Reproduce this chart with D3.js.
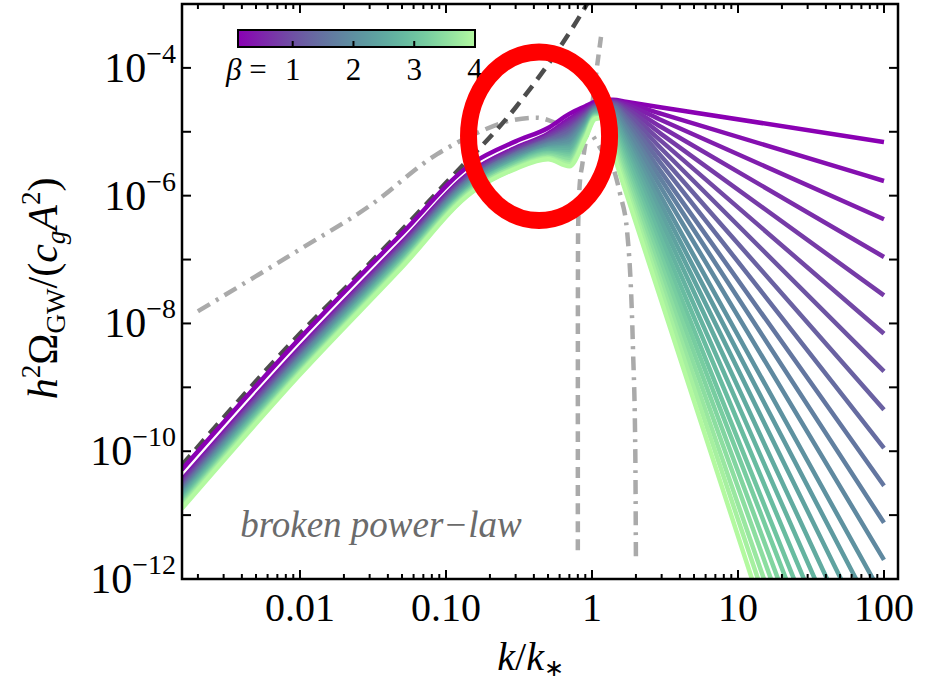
<!DOCTYPE html>
<html>
<head>
<meta charset="utf-8">
<script src="https://cdn.jsdelivr.net/npm/d3@7"></script>
<style>
    body { margin: 0; background: #fff; }
    svg text { font-family: "Liberation Serif", "Times New Roman", serif; }
</style>
</head>
<body>
<div id="gw-spectrum"></div>
<script>
// GW spectra induced by a broken power-law curvature spectrum, one curve per beta.
// Values are log10(h^2 Omega_GW / (c_g A^2)) at kNodes.

const kNodes = [0.00155, 0.01, 0.05, 0.15, 0.3, 0.5, 0.7, 0.9, 1.05, 1.2, 1.4, 1.7, 3, 100];

const betaValues = [0.1, 0.2625, 0.425, 0.5875, 0.75, 0.9125, 1.075, 1.2375, 1.4, 1.5625, 1.725, 1.8875,
    2.05, 2.2125, 2.375, 2.5375, 2.7, 2.8625, 3.025, 3.1875, 3.35, 3.5125, 3.675, 3.8375, 4.0];

const logOmegaCurves = [
    [-10.29, -8.23, -6.59, -5.50, -5.15, -4.94, -4.72, -4.60, -4.53, -4.50, -4.50, -4.53, -4.62, -5.16],
    [-10.45, -8.38, -6.73, -5.62, -5.25, -5.03, -4.80, -4.65, -4.56, -4.52, -4.51, -4.55, -4.72, -5.77],
    [-10.47, -8.40, -6.75, -5.63, -5.26, -5.05, -4.83, -4.67, -4.57, -4.53, -4.52, -4.57, -4.82, -6.37],
    [-10.49, -8.42, -6.76, -5.65, -5.28, -5.06, -4.86, -4.69, -4.58, -4.54, -4.53, -4.60, -4.93, -6.96],
    [-10.51, -8.43, -6.78, -5.66, -5.29, -5.08, -4.90, -4.71, -4.59, -4.56, -4.54, -4.63, -5.04, -7.56],
    [-10.53, -8.45, -6.80, -5.68, -5.31, -5.10, -4.93, -4.73, -4.60, -4.57, -4.55, -4.67, -5.15, -8.16],
    [-10.55, -8.47, -6.81, -5.69, -5.32, -5.12, -4.96, -4.75, -4.61, -4.58, -4.56, -4.70, -5.27, -8.75],
    [-10.57, -8.49, -6.83, -5.71, -5.34, -5.13, -4.99, -4.77, -4.62, -4.59, -4.58, -4.75, -5.39, -9.35],
    [-10.59, -8.51, -6.85, -5.72, -5.35, -5.15, -5.03, -4.79, -4.63, -4.61, -4.60, -4.79, -5.51, -9.95],
    [-10.61, -8.53, -6.87, -5.73, -5.36, -5.17, -5.06, -4.81, -4.64, -4.62, -4.62, -4.84, -5.64, -10.54],
    [-10.63, -8.54, -6.88, -5.75, -5.38, -5.19, -5.09, -4.83, -4.65, -4.63, -4.65, -4.90, -5.76, -11.12],
    [-10.65, -8.56, -6.90, -5.76, -5.39, -5.20, -5.12, -4.85, -4.66, -4.64, -4.68, -4.95, -5.89, -11.70],
    [-10.67, -8.58, -6.92, -5.78, -5.41, -5.22, -5.15, -4.87, -4.67, -4.65, -4.71, -5.02, -6.03, -12.31],
    [-10.68, -8.60, -6.93, -5.79, -5.42, -5.24, -5.19, -4.89, -4.68, -4.67, -4.74, -5.08, -6.16, -12.84],
    [-10.70, -8.62, -6.95, -5.81, -5.44, -5.26, -5.22, -4.91, -4.70, -4.68, -4.78, -5.14, -6.29, -13.37],
    [-10.72, -8.64, -6.97, -5.82, -5.45, -5.27, -5.25, -4.93, -4.71, -4.69, -4.82, -5.21, -6.42, -13.92],
    [-10.74, -8.65, -6.98, -5.84, -5.47, -5.29, -5.28, -4.95, -4.72, -4.70, -4.87, -5.28, -6.56, -14.45],
    [-10.76, -8.67, -7.00, -5.85, -5.48, -5.31, -5.32, -4.97, -4.73, -4.72, -4.91, -5.35, -6.70, -14.98],
    [-10.78, -8.69, -7.02, -5.86, -5.49, -5.33, -5.35, -4.99, -4.74, -4.73, -4.96, -5.43, -6.84, -15.51],
    [-10.80, -8.71, -7.04, -5.88, -5.51, -5.34, -5.38, -5.01, -4.75, -4.74, -5.01, -5.51, -6.97, -15.96],
    [-10.82, -8.73, -7.05, -5.89, -5.52, -5.36, -5.41, -5.03, -4.76, -4.75, -5.07, -5.59, -7.10, -16.46],
    [-10.84, -8.75, -7.07, -5.91, -5.54, -5.38, -5.44, -5.05, -4.77, -4.76, -5.13, -5.67, -7.24, -16.92],
    [-10.86, -8.76, -7.09, -5.92, -5.55, -5.40, -5.48, -5.07, -4.78, -4.77, -5.20, -5.76, -7.38, -17.42],
    [-10.88, -8.78, -7.10, -5.94, -5.57, -5.41, -5.51, -5.09, -4.79, -4.78, -5.26, -5.84, -7.51, -17.87],
    [-10.90, -8.80, -7.12, -5.95, -5.58, -5.43, -5.54, -5.11, -4.80, -4.78, -5.33, -5.93, -7.66, -18.34]
];

// reference curves (grey)
const kDarkDashed = [0.00155, 0.01, 0.03, 0.1, 0.3, 0.8, 1.2];
const logDarkDashed = [-10.22, -8.16, -7.06, -5.80, -4.62, -3.24, -2.55];

const kDashDot = [0.002, 0.005, 0.01, 0.03, 0.087, 0.17, 0.27, 0.42, 0.6, 0.8, 0.95, 1.15, 1.44, 1.56, 1.74, 1.91, 1.98, 2.0];
const logDashDot = [-7.81, -7.26, -6.84, -6.16, -5.35, -5.00, -4.83, -4.78, -4.88, -4.96, -5.00, -5.27, -5.66, -5.98, -6.56, -8.41, -10.0, -11.75];

const kGreyDashed = [0.800, 0.8005, 0.803, 0.82, 0.86, 0.93, 1.0, 1.08, 1.155];
const logGreyDashed = [-11.55, -8.0, -6.6, -5.9, -5.5, -5.0, -4.6, -4.0, -3.50];

const xMajorTicks = [0.01, 0.1, 1, 10, 100];
const xTickLabels = ["0.01", "0.10", "1", "10", "100"];
const yLabelExponents = [-4, -6, -8, -10, -12];
const colorbarTicks = [1, 2, 3, 4];
const colorStops = ["#8a00b3", "#6b5ba0", "#5a93a0", "#63c3a0", "#b3f9a0"];

// red highlight ring around the resonance feature (centre in data units, radii in decades)
const ringCentre = { k: 0.434, logOmega: -5.07 };
const ringRadiusDecades = { k: 0.483, omega: 1.32 };


class SpectrumChart {
    constructor(parentElement) {
        this.parentElement = parentElement;
        this.initVis();
    }

    initVis() {
        let vis = this;

        vis.margin = { top: 4, right: 30, bottom: 107, left: 182 };
        vis.width = 928 - vis.margin.left - vis.margin.right;
        vis.height = 686 - vis.margin.top - vis.margin.bottom;

        vis.root = d3.select(`#${vis.parentElement}`)
            .append("svg")
            .attr("width", 928)
            .attr("height", 686);

        vis.svg = vis.root.append("g")
            .attr("transform", `translate(${vis.margin.left}, ${vis.margin.top})`);

        vis.x = d3.scaleLog().domain([10 ** -2.808, 10 ** 2.096]).range([0, vis.width]);
        vis.y = d3.scaleLog().domain([1e-12, 1e-3]).range([vis.height, 0]);

        vis.color = d3.scaleSequential(d3.interpolateRgbBasis(colorStops)).domain([0.1, 4]);

        vis.svg.append("clipPath").attr("id", "plot-clip")
            .append("rect").attr("width", vis.width).attr("height", vis.height);

        vis.line = d3.line()
            .x(d => vis.x(d.k))
            .y(d => vis.y(d.omega))
            .curve(d3.curveMonotoneX);

        vis.wrangleData();
    }

    wrangleData() {
        let vis = this;

        const toPoints = (ks, logs) => ks.map((k, i) => ({ k: k, omega: 10 ** logs[i] }));

        vis.curves = betaValues.map((beta, i) => ({
            beta: beta,
            points: toPoints(kNodes, logOmegaCurves[i])
        }));
        vis.darkDashed = toPoints(kDarkDashed, logDarkDashed);
        vis.dashDot = toPoints(kDashDot, logDashDot);
        vis.greyDashed = toPoints(kGreyDashed, logGreyDashed);

        vis.updateVis();
    }

    updateVis() {
        let vis = this;

        let plot = vis.svg.append("g").attr("clip-path", "url(#plot-clip)");

        plot.append("path").datum(vis.dashDot)
            .attr("d", vis.line).attr("fill", "none")
            .attr("stroke", "#aaaaaa").attr("stroke-width", 4.5)
            .attr("stroke-dasharray", "14,7,3,7");

        plot.append("path").datum(vis.greyDashed)
            .attr("d", vis.line).attr("fill", "none")
            .attr("stroke", "#aaaaaa").attr("stroke-width", 4.5)
            .attr("stroke-dasharray", "11,7");

        plot.append("path").datum(vis.darkDashed)
            .attr("d", vis.line).attr("fill", "none")
            .attr("stroke", "#4d4d4d").attr("stroke-width", 4.5)
            .attr("stroke-dasharray", "13,8");

        plot.selectAll(".beta-curve")
            .data(vis.curves)
            .join("path")
            .attr("class", "beta-curve")
            .attr("d", d => vis.line(d.points))
            .attr("fill", "none")
            .attr("stroke", d => vis.color(d.beta))
            .attr("stroke-width", 4.5);

        // frame + ticks on all four sides
        vis.svg.append("rect")
            .attr("width", vis.width).attr("height", vis.height)
            .attr("fill", "none").attr("stroke", "#000").attr("stroke-width", 2.5);

        let xMinor = [];
        for (let e = -3; e <= 2; e++) {
            for (let m = 2; m <= 9; m++) {
                const v = m * 10 ** e;
                if (v > vis.x.domain()[0] && v < vis.x.domain()[1]) xMinor.push(v);
            }
        }
        let yMinor = d3.range(-11, -2, 2).map(e => 10 ** e);
        let yMajor = yLabelExponents.map(e => 10 ** e);

        const tickGroup = vis.svg.append("g").attr("stroke", "#000").attr("stroke-width", 2);
        const addXTicks = (vals, len) => {
            vals.forEach(v => {
                tickGroup.append("line").attr("x1", vis.x(v)).attr("x2", vis.x(v))
                    .attr("y1", vis.height).attr("y2", vis.height - len);
                tickGroup.append("line").attr("x1", vis.x(v)).attr("x2", vis.x(v))
                    .attr("y1", 0).attr("y2", len);
            });
        };
        const addYTicks = (vals, len) => {
            vals.forEach(v => {
                tickGroup.append("line").attr("y1", vis.y(v)).attr("y2", vis.y(v))
                    .attr("x1", 0).attr("x2", len);
                tickGroup.append("line").attr("y1", vis.y(v)).attr("y2", vis.y(v))
                    .attr("x1", vis.width).attr("x2", vis.width - len);
            });
        };
        addXTicks(xMajorTicks, 9);
        addXTicks(xMinor, 5);
        addYTicks(yMajor, 9);
        addYTicks(yMinor, 9);

        // tick labels
        vis.svg.selectAll(".x-label")
            .data(xMajorTicks)
            .join("text")
            .attr("class", "x-label")
            .attr("x", d => vis.x(d))
            .attr("y", vis.height + 42)
            .attr("text-anchor", "middle")
            .attr("font-size", 40)
            .text((d, i) => xTickLabels[i]);

        vis.svg.selectAll(".y-label")
            .data(yLabelExponents)
            .join("text")
            .attr("class", "y-label")
            .attr("x", -6)
            .attr("y", d => vis.y(10 ** d) + 14)
            .attr("text-anchor", "end")
            .each(function(d) {
                const t = d3.select(this);
                t.append("tspan").attr("font-size", 42).text("10");
                t.append("tspan").attr("font-size", 28).attr("dy", -19).text("\u2212" + Math.abs(d));
            });

        // axis titles
        let xTitle = vis.root.append("text")
            .attr("x", vis.margin.left + vis.x(0.38))
            .attr("y", 670)
            .attr("text-anchor", "middle")
            .attr("font-size", 40);
        xTitle.append("tspan").attr("font-style", "italic").text("k");
        xTitle.append("tspan").text("/");
        xTitle.append("tspan").attr("font-style", "italic").text("k");
        xTitle.append("tspan").attr("font-size", 24).attr("dy", 6).text("\u2217");

        let yTitle = vis.root.append("text")
            .attr("transform", `translate(57, ${vis.margin.top + vis.y(10 ** -7.45)}) rotate(-90)`)
            .attr("text-anchor", "middle")
            .attr("font-size", 42);
        yTitle.append("tspan").attr("font-style", "italic").text("h");
        yTitle.append("tspan").attr("font-size", 27).attr("dy", -17).text("2");
        yTitle.append("tspan").attr("dy", 17).text("\u03A9");
        yTitle.append("tspan").attr("font-size", 27).attr("dy", 8).text("GW");
        yTitle.append("tspan").attr("dy", -8).text("/(");
        yTitle.append("tspan").attr("font-style", "italic").text("c");
        yTitle.append("tspan").attr("font-style", "italic").attr("font-size", 27).attr("dy", 8).text("g");
        yTitle.append("tspan").attr("font-style", "italic").attr("dy", -8).text("A");
        yTitle.append("tspan").attr("font-size", 27).attr("dy", -17).text("2");
        yTitle.append("tspan").attr("dy", 17).text(")");

        // annotation text
        vis.svg.append("text")
            .attr("x", vis.x(0.0039))
            .attr("y", vis.y(10 ** -11.34))
            .attr("font-size", 37)
            .attr("font-style", "italic")
            .attr("fill", "#6b6b6b")
            .text("broken power\u2212law");

        // colorbar
        const cbX = d3.scaleLinear().domain([0.1, 4]).range([56, 293]);
        const cbTop = 26, cbH = 17;
        const grad = vis.root.append("defs").append("linearGradient").attr("id", "cb-grad");
        d3.range(0, 1.0001, 0.05).forEach(t => {
            grad.append("stop").attr("offset", t).attr("stop-color", vis.color(0.1 + t * 3.9));
        });
        const cb = vis.svg.append("g");
        cb.append("rect")
            .attr("x", cbX(0.1)).attr("y", cbTop)
            .attr("width", cbX(4) - cbX(0.1)).attr("height", cbH)
            .attr("fill", "url(#cb-grad)").attr("stroke", "#000").attr("stroke-width", 2);
        cb.selectAll(".cb-tick")
            .data(colorbarTicks.slice(0, 3))
            .join("line")
            .attr("class", "cb-tick")
            .attr("x1", d => cbX(d)).attr("x2", d => cbX(d))
            .attr("y1", cbTop + cbH).attr("y2", cbTop + cbH - 6)
            .attr("stroke", "#000").attr("stroke-width", 2);
        cb.selectAll(".cb-label")
            .data(colorbarTicks)
            .join("text")
            .attr("class", "cb-label")
            .attr("x", d => cbX(d)).attr("y", cbTop + cbH + 33)
            .attr("text-anchor", "middle")
            .attr("font-size", 31)
            .text(d => d);
        let betaText = cb.append("text")
            .attr("x", cbX(1) - 26).attr("y", cbTop + cbH + 33)
            .attr("text-anchor", "end")
            .attr("font-size", 31);
        betaText.append("tspan").attr("font-style", "italic").text("\u03B2");
        betaText.append("tspan").text(" =");

        // red ring
        const cxk = Math.log10(ringCentre.k);
        const cx = vis.x(ringCentre.k);
        const cy = vis.y(10 ** ringCentre.logOmega);
        const rx = (vis.x(10 ** (cxk + ringRadiusDecades.k)) - vis.x(10 ** (cxk - ringRadiusDecades.k))) / 2;
        const ry = (vis.y(10 ** (ringCentre.logOmega - ringRadiusDecades.omega)) - vis.y(10 ** (ringCentre.logOmega + ringRadiusDecades.omega))) / 2;
        vis.svg.append("ellipse")
            .attr("cx", cx).attr("cy", cy).attr("rx", rx).attr("ry", ry)
            .attr("fill", "none").attr("stroke", "#ff0000").attr("stroke-width", 17);
    }
}

new SpectrumChart("gw-spectrum");
</script>
</body>
</html>
